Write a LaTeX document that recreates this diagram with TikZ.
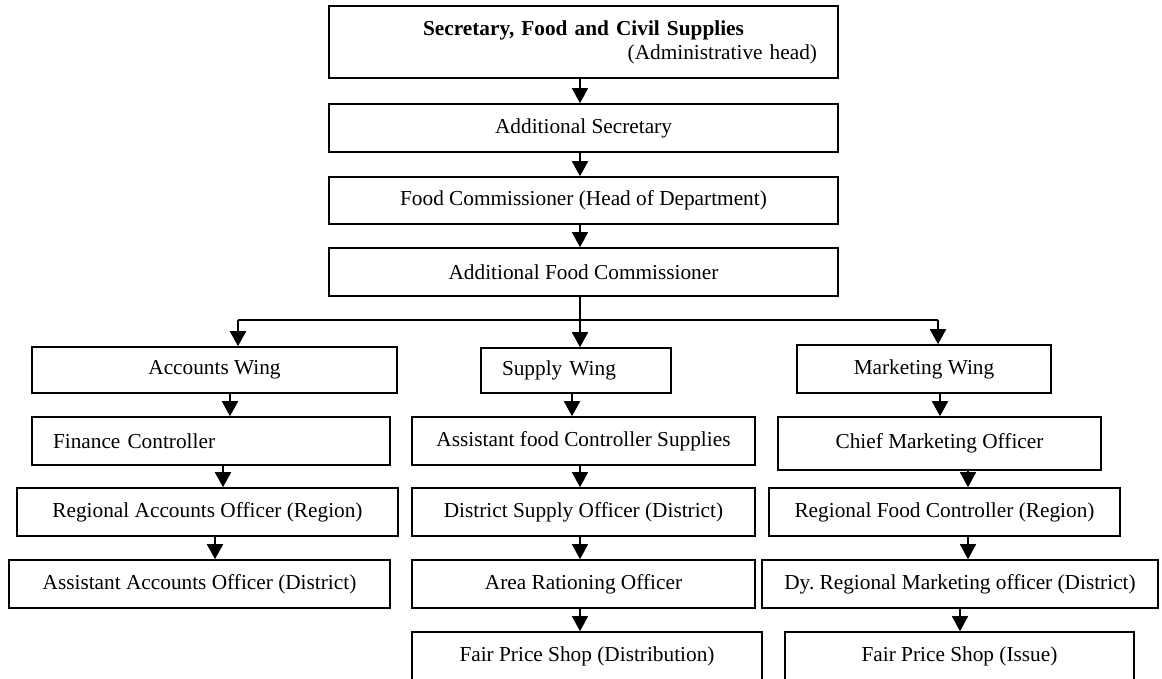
\documentclass[tikz,border=0pt]{standalone}
\usepackage{fontspec}
\setmainfont{Liberation Serif}
\usetikzlibrary{arrows.meta}
\frenchspacing
\begin{document}
\begin{tikzpicture}[x=1pt,y=-1pt,
  box/.style={draw, line width=1.6pt, inner sep=0pt, minimum height=48pt,
    font=\fontsize{21.3}{24}\selectfont},
  conn/.style={line width=1.8pt},
  arr/.style={line width=1.8pt, -{Triangle[width=16pt,length=15pt]}}]
\useasboundingbox (0,0) rectangle (1162,678);
% top chain
\node[box, minimum width=509pt, minimum height=72pt, text width=467pt, align=center] (T) at (583.5,42)
  {{\bfseries Secretary, Food and Civil Supplies}\\\makebox[467pt][r]{(Administrative head)}};
\node[box, minimum width=509pt] (AS) at (583.5,128) {Additional Secretary};
\node[box, minimum width=509pt, minimum height=47pt] (FC) at (583.5,200.5) {Food Commissioner (Head of Department)};
\node[box, minimum width=509pt] (AFC) at (583.5,272) {Additional Food Commissioner};
% wings
\node[box, minimum width=365pt, minimum height=46pt] (AW) at (214.5,370) {Accounts Wing};
\node[box, minimum width=190pt, minimum height=45pt, text width=148pt, inner xsep=21pt, align=left] (SW) at (576,370.5) {Supply Wing};
\node[box, minimum width=254pt] (MW) at (924,369) {Marketing Wing};
% accounts column
\node[box, minimum width=358pt, text width=316pt, inner xsep=21pt, align=left] (FinC) at (211,441) {Finance Controller};
\node[box, minimum width=381pt] (RAO) at (207.5,512) {Regional Accounts Officer (Region)};
\node[box, minimum width=381pt] (AAO) at (199.5,584) {Assistant Accounts Officer (District)};
% supply column
\node[box, minimum width=343pt] (AFCS) at (583.5,441) {Assistant food Controller Supplies};
\node[box, minimum width=343pt] (DSO) at (583.5,512) {District Supply Officer (District)};
\node[box, minimum width=343pt] (ARO) at (583.5,584) {Area Rationing Officer};
\node[box, minimum width=350pt] (FPSD) at (587,656) {Fair Price Shop (Distribution)};
% marketing column
\node[box, minimum width=323pt, minimum height=53pt] (CMO) at (939.5,443.5) {Chief Marketing Officer};
\node[box, minimum width=351pt] (RFC) at (944.5,512) {Regional Food Controller (Region)};
\node[box, minimum width=396pt] (DRMO) at (960,584) {Dy. Regional Marketing officer (District)};
\node[box, minimum width=349pt] (FPSI) at (959.5,656) {Fair Price Shop (Issue)};
% connectors top
\draw[arr] (T.south -| 580,0) -- (AS.north -| 580,0);
\draw[arr] (AS.south -| 580,0) -- (FC.north -| 580,0);
\draw[arr] (FC.south -| 580,0) -- (AFC.north -| 580,0);
\coordinate (J) at (580,320);
\coordinate (JL) at (238,320);
\coordinate (JR) at (938,320);
\draw[conn] (AFC.south -| J) -- (J);
\draw[conn] (JL) -- (JR);
\draw[arr] (JL) -- (AW.north -| JL);
\draw[arr] (J) -- (SW.north -| J);
\draw[arr] (JR) -- (MW.north -| JR);
% accounts arrows
\draw[arr] (AW.south -| 230,0) -- (FinC.north -| 230,0);
\draw[arr] (FinC.south -| 223,0) -- (RAO.north -| 223,0);
\draw[arr] (RAO.south -| 215,0) -- (AAO.north -| 215,0);
% supply arrows
\draw[arr] (SW.south -| 572,0) -- (AFCS.north -| 572,0);
\draw[arr] (AFCS.south -| 580,0) -- (DSO.north -| 580,0);
\draw[arr] (DSO.south -| 580,0) -- (ARO.north -| 580,0);
\draw[arr] (ARO.south -| 580,0) -- (FPSD.north -| 580,0);
% marketing arrows
\draw[arr] (MW.south -| 940,0) -- (CMO.north -| 940,0);
\draw[arr] (CMO.south -| 968,0) -- (RFC.north -| 968,0);
\draw[arr] (RFC.south -| 968,0) -- (DRMO.north -| 968,0);
\draw[arr] (DRMO.south -| 960,0) -- (FPSI.north -| 960,0);
\end{tikzpicture}
\end{document}
